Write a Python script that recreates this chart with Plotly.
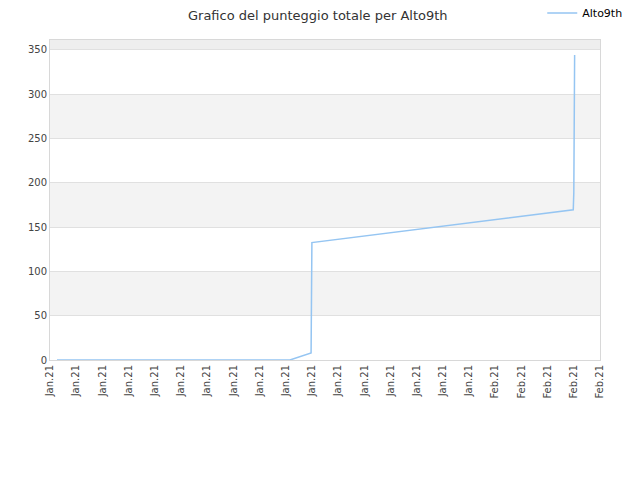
import plotly.graph_objects as go
import pandas as pd

# punteggio totale nel tempo
dates = ["2021-01-15 06:25", "2021-01-24 03:50", "2021-01-24 23:15", "2021-01-24 23:30",
         "2021-01-25 00:00", "2021-02-03 23:30", "2021-02-04 00:00", "2021-02-04 00:45"]
scores = [0, 0, 8, 115, 132.5, 169.5, 189, 344]

tick_days = pd.date_range("2021-01-15", "2021-02-05", freq="D")
y_ticks = [0, 50, 100, 150, 200, 250, 300, 350]

fig = go.Figure()
fig.add_trace(go.Scatter(
    x=pd.to_datetime(dates), y=scores,
    mode="lines", name="Alto9th",
    line=dict(color="#95c5f2", width=1.5)
))

# bande alternate
for lo in [50, 150, 250]:
    fig.add_hrect(y0=lo, y1=lo + 50, fillcolor="#f3f3f3", line_width=0, layer="below")
fig.add_hrect(y0=350, y1=361, fillcolor="#eeeeee", line_width=0, layer="below")

# la pagina ha 8px di margine sul body, quindi sposto tutto
fig.update_layout(
    width=640, height=480,
    margin=dict(l=42, r=48, t=32, b=128, autoexpand=False),
    paper_bgcolor="white", plot_bgcolor="white",
    font=dict(family="DejaVu Sans", size=10, color="#444"),
    title=dict(text="Grafico del punteggio totale per Alto9th", x=0.484, xanchor="center",
               y=0.993, yanchor="top", pad=dict(t=0, b=0),
               font=dict(size=13, color="#333")),
    showlegend=True,
    legend=dict(x=0.895, y=1.084, xanchor="left", yanchor="middle",
                bgcolor="rgba(0,0,0,0)", font=dict(size=11, color="#000")),
)
fig.update_xaxes(
    type="date", range=[tick_days[0], tick_days[-1]],
    tickvals=list(tick_days), tickformat="%b.%y", tickangle=-90,
    showgrid=False, showline=True, linecolor="#d8d8d8", mirror=True,
    ticks="", zeroline=False, automargin=False
)
fig.update_yaxes(
    range=[0, 361], tickvals=y_ticks,
    showgrid=True, gridcolor="#e0e0e0", showline=True, linecolor="#d8d8d8", mirror=True,
    ticks="", zeroline=False, automargin=False
)

fig.write_html("out.html")
